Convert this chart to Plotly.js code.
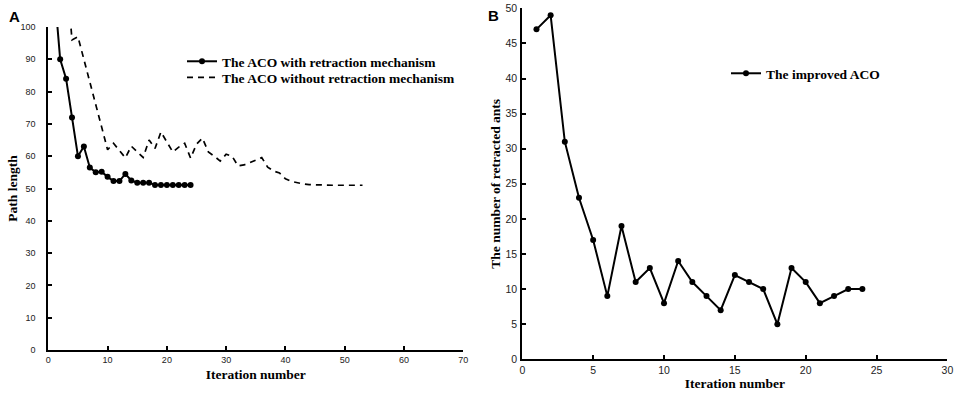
<!DOCTYPE html>
<html><head><meta charset="utf-8">
<script src="https://cdn.plot.ly/plotly-3.0.1.min.js"></script>
<style>html,body{margin:0;padding:0;background:#fff}#chart{width:957px;height:396px}</style>
</head><body><div id="chart"></div>
<script>
// Panel A: path length
const iterWith = [1,2,3,4,5,6,7,8,9,10,11,12,13,14,15,16,17,18,19,20,21,22,23,24];
const pathWith = [112,90,84,72,60,63,56.5,55,55.2,53.6,52.3,52.3,54.5,52.5,51.8,51.8,51.8,51.1,51.1,51.1,51.1,51.1,51.1,51.1];
const iterWithout = [1,2,3,4,5,6,7,8,9,10,11,12,13,14,15,16,17,18,19,20,21,22,23,24,25,26,27,28,29,30,31,32,33,34,35,36,37,38,39,40,41,42,43,44,45,46,47,48,49,50,51,52,53];
const pathWithout = [140,130,118,96,97,90,83,76,69,62,64,61.7,59.5,63.1,61.5,59.6,65,62.4,67.5,64.5,61.3,62.8,64,59.4,63.7,65.6,61.3,60,58.5,60.6,60,57,57.3,58,58.8,59.6,56.6,55.4,54.8,53,52.2,51.7,51.4,51.2,51.1,51,51,51,51,51,51,51,51];
// Panel B: retracted ants
const iterB = [1,2,3,4,5,6,7,8,9,10,11,12,13,14,15,16,17,18,19,20,21,22,23,24];
const antsB = [47,49,31,23,17,9,19,11,13,8,14,11,9,7,12,11,10,5,13,11,8,9,10,10];

const nameWith = 'The ACO with retraction mechanism';
const nameWithout = 'The ACO without retraction mechanism';
const nameB = 'The improved ACO';

const W = 957, H = 396;
const px = v => v / W, py = v => 1 - v / H;

const traces = [
  {x: iterWith, y: pathWith, name: nameWith, type: 'scatter', mode: 'lines+markers', showlegend: true,
   line: {color: '#000', width: 2}, marker: {color: '#000', size: 6}, xaxis: 'x', yaxis: 'y', legend: 'legend'},
  {x: iterWithout, y: pathWithout, name: nameWithout, type: 'scatter', mode: 'lines', showlegend: true,
   line: {color: '#000', width: 1.7, dash: '6px,5px'}, xaxis: 'x', yaxis: 'y', legend: 'legend3'},
  {x: iterB, y: antsB, name: nameB, type: 'scatter', mode: 'lines+markers',
   line: {color: '#000', width: 2}, marker: {color: '#000', size: 6}, xaxis: 'x2', yaxis: 'y2', legend: 'legend2', showlegend: true}
];

const axisBase = {showline: true, linecolor: '#000', linewidth: 2, ticks: 'inside', ticklen: 4, tickwidth: 2,
  tickcolor: '#000', showgrid: false, zeroline: false, fixedrange: true};
const titleFont = {family: 'Liberation Serif, Times New Roman, serif', size: 13.5, color: '#000', weight: 'bold'};
const legFont = {family: 'Liberation Serif, Times New Roman, serif', size: 13.5, color: '#000', weight: 'bold'};

const layout = {
  width: W, height: H, margin: {l: 0, r: 0, t: 0, b: 0},
  paper_bgcolor: '#fff', plot_bgcolor: '#fff', showlegend: true,
  xaxis: Object.assign({}, axisBase, {domain: [px(48.3), px(463.3)], range: [0, 70], dtick: 10, anchor: 'y',
    tickfont: {family: 'Liberation Sans, Arial, sans-serif', size: 9, color: '#222'},
    title: {text: 'Iteration number', font: titleFont, standoff: 6}}),
  yaxis: Object.assign({}, axisBase, {domain: [py(350), py(27)], range: [0, 100], dtick: 10, anchor: 'x',
    tickfont: {family: 'Liberation Sans, Arial, sans-serif', size: 9, color: '#222'}, ticklabelstandoff: 9,
    title: {text: 'Path length', font: titleFont, standoff: 0}}),
  xaxis2: Object.assign({}, axisBase, {domain: [px(522.3), px(947.4)], range: [0, 30], dtick: 5, anchor: 'y2',
    tickfont: {family: 'Liberation Sans, Arial, sans-serif', size: 10.5, color: '#222'},
    title: {text: 'Iteration number', font: titleFont, standoff: 2}}),
  yaxis2: Object.assign({}, axisBase, {domain: [py(359.3), py(8.3)], range: [0, 50], dtick: 5, anchor: 'x2',
    tickfont: {family: 'Liberation Sans, Arial, sans-serif', size: 10.5, color: '#222'}, ticklabelstandoff: 1,
    title: {text: 'The number of retracted ants', font: titleFont, standoff: 2}}),
  legend: {x: px(182), y: py(46), xanchor: 'left', yanchor: 'top', bgcolor: 'rgba(0,0,0,0)', font: legFont, visible: true},
  legend3: {x: px(182), y: py(62), xanchor: 'left', yanchor: 'top', bgcolor: 'rgba(0,0,0,0)', font: legFont, visible: true},
  legend2: {x: px(726), y: py(58), xanchor: 'left', yanchor: 'top', bgcolor: 'rgba(0,0,0,0)', font: legFont, visible: true},
  annotations: [
    {text: '<b>A</b>', x: px(7), y: py(6), xref: 'paper', yref: 'paper', xanchor: 'left', yanchor: 'top', showarrow: false,
     font: {family: 'Liberation Sans, Arial, sans-serif', size: 15, color: '#000'}},
    {text: '<b>B</b>', x: px(486), y: py(5), xref: 'paper', yref: 'paper', xanchor: 'left', yanchor: 'top', showarrow: false,
     font: {family: 'Liberation Sans, Arial, sans-serif', size: 15, color: '#000'}}
  ]
};

Plotly.newPlot('chart', traces, layout, {displayModeBar: false, staticPlot: true});
</script>
</body></html>
